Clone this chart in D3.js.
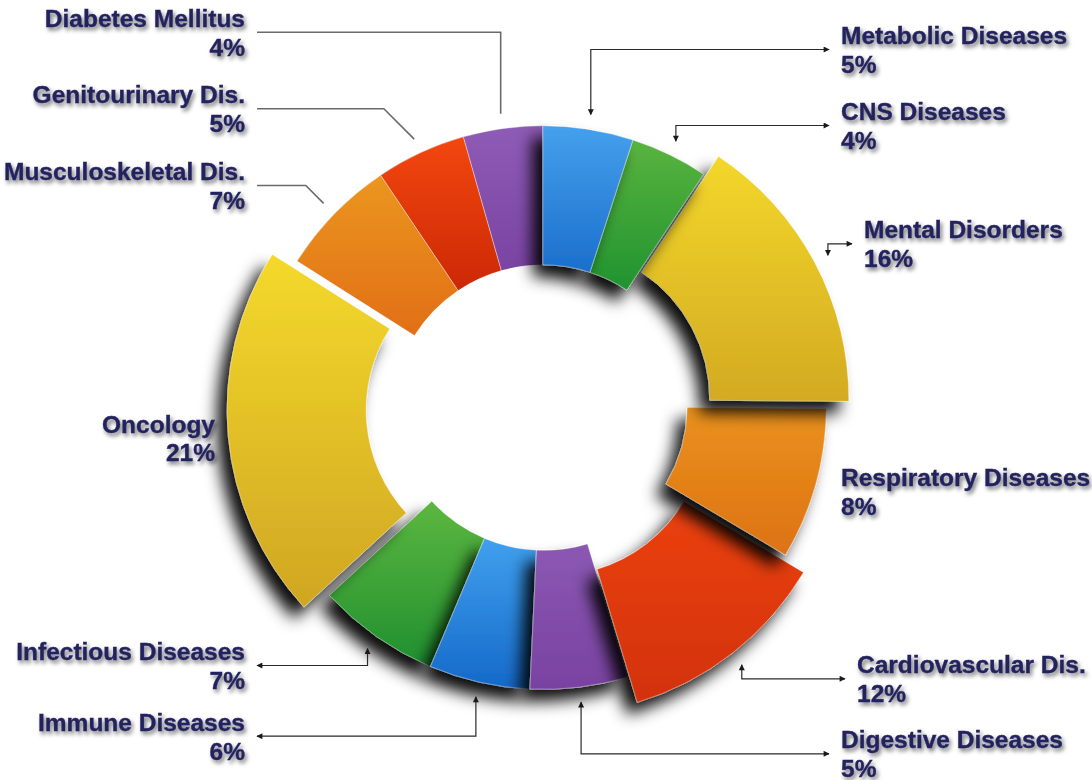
<!DOCTYPE html>
<html lang="en">
<head>
  <meta charset="UTF-8">
  <title>Share by therapeutic area</title>
  <style>
    body { margin: 0; background: #ffffff; }
    svg { display: block; }
    .label {
      font-family: "Liberation Sans", Arial, sans-serif;
      font-weight: bold;
      font-size: 24.5px;
      fill: #24235f;
      stroke: #24235f;
      stroke-width: 0.35px;
    }
  </style>
</head>
<body>
  <script src="https://d3js.org/d3.v7.min.js"></script>
  <script>
    // Categories, clockwise from 12 o'clock
    let categories = [
      "Metabolic Diseases", "CNS Diseases", "Mental Disorders", "Respiratory Diseases",
      "Cardiovascular Dis.", "Digestive Diseases", "Immune Diseases", "Infectious Diseases",
      "Oncology", "Musculoskeletal Dis.", "Genitourinary Dis.", "Diabetes Mellitus"
    ];

    // Share of each category in %
    let shares = [5.0, 4.3, 15.8, 8.4, 11.8, 5.4, 5.6, 6.8, 20.8, 6.6, 5.0, 4.4];

    // ---- styling / layout below ----
    let svgWidth = 1092;
    let svgHeight = 780;
    let cx = 541, cy = 408;
    let innerR = 152, outerR = 291;

    // gradient colours, top -> bottom
    let topColors = ["#45a0ec", "#5ab43e", "#f3d72b", "#ea911d", "#ec4112", "#8b58b3",
                     "#40a0ee", "#5cb740", "#f4d92b", "#eb961f", "#f3470f", "#8e5bb5"];
    let bottomColors = ["#1b6fcc", "#1f9330", "#d3aa22", "#dd7214", "#d2320c", "#7942a1",
                        "#1569c8", "#1f8f2f", "#d0a623", "#e16f16", "#cc2806", "#7a44a2"];

    // slices that stick together, and how far each block is pushed out (px)
    let sliceGroup = [0, 0, 1, 2, 3, 4, 4, 4, 5, 0, 0, 0];
    let groupShift = [-9, 19, -6, 20, -10, 23];

    // which slices throw a shadow, and in which order they are painted
    let hasShadow = [true, true, true, true, true, true, true, true, true, false, false, false];
    let drawOrder = [9, 10, 11, 7, 6, 5, 4, 3, 2, 1, 0, 8];

    // label placement: x, first baseline, anchor
    let labelX = [841, 841, 864, 841, 857, 841, 245, 245, 215, 245, 245, 245];
    let labelY = [44, 120, 238.3, 486, 673.3, 748.3, 730.7, 660, 432.5, 180, 103.3, 26.7];
    let labelAnchor = ["start", "start", "start", "start", "start", "start",
                       "end", "end", "end", "end", "end", "end"];
    let lineGap = 28.8;

    // leader lines: kind and arrowheads; they stop a little past the outer rim
    let leaderKind = ["elbow", "elbow", "elbow", "none", "elbow", "elbow",
                      "elbow", "elbow", "none", "diag", "diag", "elbow"];
    let leaderArrow = [true, true, true, false, true, true, true, true, false, false, false, false];
    let leaderPad = 15;

    let svg = d3.select("body")
      .append("svg")
      .attr("width", svgWidth)
      .attr("height", svgHeight);

    let defs = svg.append("defs");

    // soft black shadow thrown down-left
    defs.append("filter")
      .attr("id", "sliceShadow")
      .attr("x", "-40%").attr("y", "-40%")
      .attr("width", "180%").attr("height", "180%")
      .append("feDropShadow")
      .attr("dx", -10).attr("dy", 12)
      .attr("stdDeviation", 8)
      .attr("flood-color", "#000")
      .attr("flood-opacity", 0.95);

    // text shadow
    defs.append("filter")
      .attr("id", "textShadow")
      .attr("x", "-10%").attr("y", "-30%")
      .attr("width", "120%").attr("height", "160%")
      .append("feDropShadow")
      .attr("dx", 2).attr("dy", 3)
      .attr("stdDeviation", 2)
      .attr("flood-color", "#000")
      .attr("flood-opacity", 0.55);

    // arrowhead marker
    defs.append("marker")
      .attr("id", "arrow")
      .attr("viewBox", "0 0 10 10")
      .attr("refX", 9).attr("refY", 5)
      .attr("markerWidth", 7).attr("markerHeight", 6)
      .attr("markerUnits", "userSpaceOnUse")
      .attr("orient", "auto-start-reverse")
      .append("path")
      .attr("d", "M0,0 L10,5 L0,10 Z")
      .attr("fill", "#1a1a1a");

    // one vertical gradient per slice
    categories.forEach((c, i) => {
      let g = defs.append("linearGradient")
        .attr("id", "grad" + i)
        .attr("x1", 0).attr("y1", 0).attr("x2", 0).attr("y2", 1);
      g.append("stop").attr("offset", "0%").attr("stop-color", topColors[i]);
      g.append("stop").attr("offset", "100%").attr("stop-color", bottomColors[i]);
    });

    // Pie layout, starting at 12 o'clock, keeping the given order
    let pie = d3.pie().sort(null).value(d => d);
    let arcs = pie(shares);

    let arc = d3.arc()
      .innerRadius(innerR)
      .outerRadius(outerR);

    // direction of a block = centre of its angular span
    let groupDir = groupShift.map((s, g) => {
      let vx = 0, vy = 0;
      arcs.forEach((a, i) => {
        if (sliceGroup[i] !== g) return;
        let mid = (a.startAngle + a.endAngle) / 2;
        let w = 2 * Math.sin((a.endAngle - a.startAngle) / 2);
        vx += w * Math.sin(mid);
        vy += -w * Math.cos(mid);
      });
      let len = Math.hypot(vx, vy);
      return [vx / len, vy / len];
    });

    let offsetOf = i => {
      let g = sliceGroup[i];
      return [groupShift[g] * groupDir[g][0], groupShift[g] * groupDir[g][1]];
    };

    // Draw the slices
    let pieGroup = svg.append("g")
      .attr("transform", `translate(${cx}, ${cy})`);

    pieGroup.selectAll(".slice")
      .data(drawOrder.map(i => arcs[i]))
      .enter()
      .append("path")
      .attr("class", "slice")
      .attr("d", arc)
      .attr("transform", d => {
        let o = offsetOf(d.index);
        return `translate(${o[0]}, ${o[1]})`;
      })
      .attr("fill", d => `url(#grad${d.index})`)
      .attr("stroke", "rgba(255,255,255,0.45)")
      .attr("stroke-width", 0.8)
      .attr("filter", d => hasShadow[d.index] ? "url(#sliceShadow)" : null);

    // Leader lines
    let leaderGroup = svg.append("g");

    arcs.forEach((a, i) => {
      if (leaderKind[i] === "none") return;
      let o = offsetOf(i);
      let mid = (a.startAngle + a.endAngle) / 2;
      let r = outerR + leaderPad;
      let ax = cx + o[0] + r * Math.sin(mid);
      let ay = cy + o[1] - r * Math.cos(mid);
      let ly = labelY[i] + 5.5;
      let lx = labelAnchor[i] === "start" ? labelX[i] - 12 : labelX[i] + 12;

      let path = d3.path();
      path.moveTo(ax, ay);
      if (leaderKind[i] === "elbow") {
        path.lineTo(ax, ly);
      } else {
        let dy = ay - ly;
        path.lineTo(ax + (lx < ax ? -dy : dy), ly);
      }
      path.lineTo(lx, ly);

      leaderGroup.append("path")
        .attr("d", path.toString())
        .attr("fill", "none")
        .attr("stroke", leaderArrow[i] ? "#2a2a2a" : "#6a6a6a")
        .attr("stroke-width", leaderArrow[i] ? 1.2 : 1.6)
        .attr("marker-start", leaderArrow[i] ? "url(#arrow)" : null)
        .attr("marker-end", leaderArrow[i] ? "url(#arrow)" : null);
    });

    // Labels: name and rounded share
    let labelGroup = svg.append("g")
      .attr("filter", "url(#textShadow)");

    let label = labelGroup.selectAll(".label")
      .data(arcs)
      .enter()
      .append("text")
      .attr("class", "label")
      .attr("text-anchor", (d, i) => labelAnchor[i]);

    label.append("tspan")
      .attr("x", (d, i) => labelX[i])
      .attr("y", (d, i) => labelY[i])
      .text((d, i) => categories[i]);

    label.append("tspan")
      .attr("x", (d, i) => labelX[i])
      .attr("y", (d, i) => labelY[i] + lineGap)
      .text(d => Math.round(d.data) + "%");
  </script>
</body>
</html>
